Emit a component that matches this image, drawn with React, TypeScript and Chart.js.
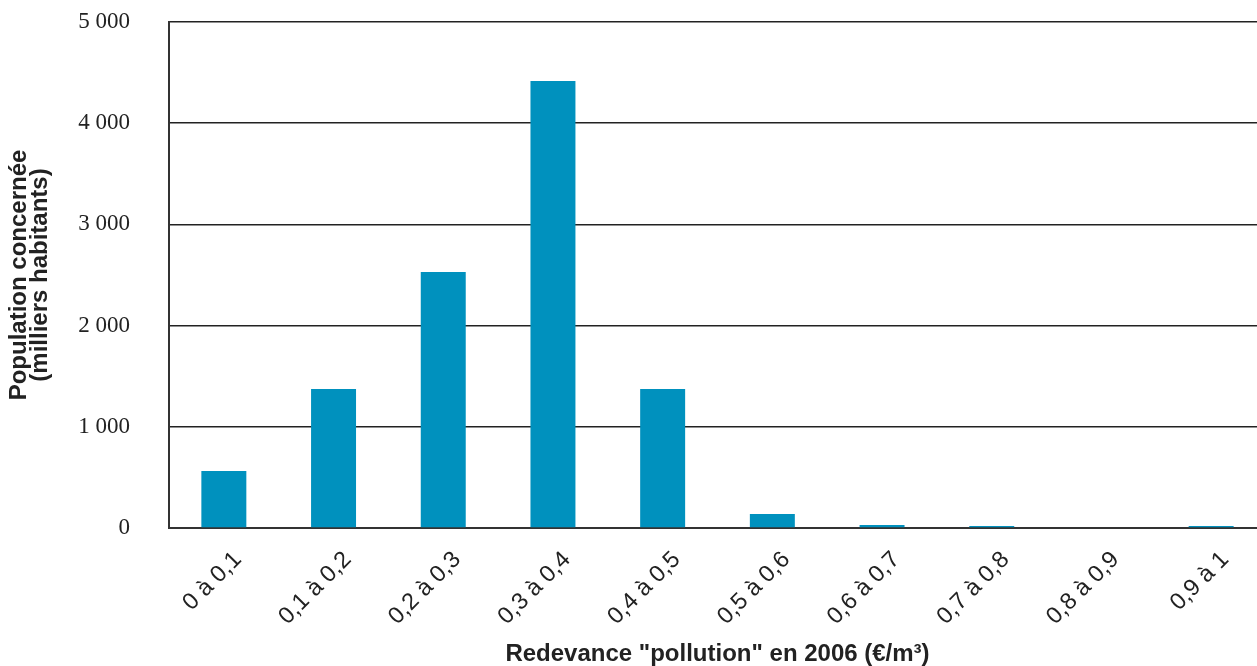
import React, { useEffect, useRef } from "react";
import { Chart, registerables } from "chart.js";

Chart.register(...registerables);

const categories = [
  "0 à 0,1",
  "0,1 à 0,2",
  "0,2 à 0,3",
  "0,3 à 0,4",
  "0,4 à 0,5",
  "0,5 à 0,6",
  "0,6 à 0,7",
  "0,7 à 0,8",
  "0,8 à 0,9",
  "0,9 à 1",
];
const population = [563, 1373, 2530, 4417, 1373, 138, 30, 20, 0, 20];
const yTitle = ["Population concernée", "(milliers habitants)"];
const xTitle = "Redevance \"pollution\" en 2006 (€/m³)";

const fmt = (v: number) => {
  const s = String(Math.round(v));
  return s.length > 3 ? s.slice(0, s.length - 3) + " " + s.slice(-3) : s;
};

export default function App() {
  const ref = useRef<HTMLCanvasElement | null>(null);
  useEffect(() => {
    if (!ref.current) return;
    const chart = new Chart(ref.current, {
      type: "bar",
      data: {
        labels: categories,
        datasets: [
          {
            data: population,
            backgroundColor: "#0091be",
            barPercentage: 0.41,
            categoryPercentage: 1,
          },
        ],
      },
      options: {
        responsive: false,
        animation: false,
        layout: { padding: { top: 22, left: 0, right: 0, bottom: 0 } },
        plugins: { legend: { display: false }, tooltip: { enabled: false } },
        scales: {
          x: {
            grid: { display: false },
            border: { display: true, color: "#333", width: 2 },
            ticks: {
              color: "#222",
              font: { family: "'Liberation Sans', Arial, sans-serif", size: 23.5 },
              minRotation: 45,
              maxRotation: 45,
              autoSkip: false,
              padding: 10,
              labelOffset: 14,
            },
            title: {
              display: true,
              text: xTitle,
              color: "#222",
              font: { family: "'Liberation Sans', Arial, sans-serif", size: 24, weight: "bold", lineHeight: 1.0 },
              padding: { top: 0, bottom: 0 },
            },
            afterFit: (s: any) => {
              s.height = 138;
              s.paddingLeft = 0;
              s.paddingRight = 0;
            },
          },
          y: {
            min: 0,
            max: 5000,
            grid: { color: "#222", lineWidth: 1.5, drawTicks: false },
            border: { display: true, color: "#333", width: 2 },
            ticks: {
              stepSize: 1000,
              color: "#222",
              padding: 39,
              font: { family: "'Liberation Serif', 'Times New Roman', serif", size: 23 },
              callback: (v: any) => fmt(Number(v)),
            },
            title: {
              display: true,
              text: yTitle,
              color: "#222",
              font: { family: "'Liberation Sans', Arial, sans-serif", size: 24, weight: "bold", lineHeight: 0.88 },
              padding: { top: 9, bottom: 0 },
            },
            afterFit: (s: any) => {
              s.width = 169;
              s.paddingTop = 0;
              s.paddingBottom = 0;
            },
          },
        },
      },
    });
    return () => chart.destroy();
  }, []);
  return (
    <div style={{ position: "absolute", left: 0, top: 0, width: 1257, height: 666, overflow: "hidden", background: "#fff" }}>
      <canvas ref={ref} width={1266} height={666} style={{ display: "block" }} />
    </div>
  );
}
